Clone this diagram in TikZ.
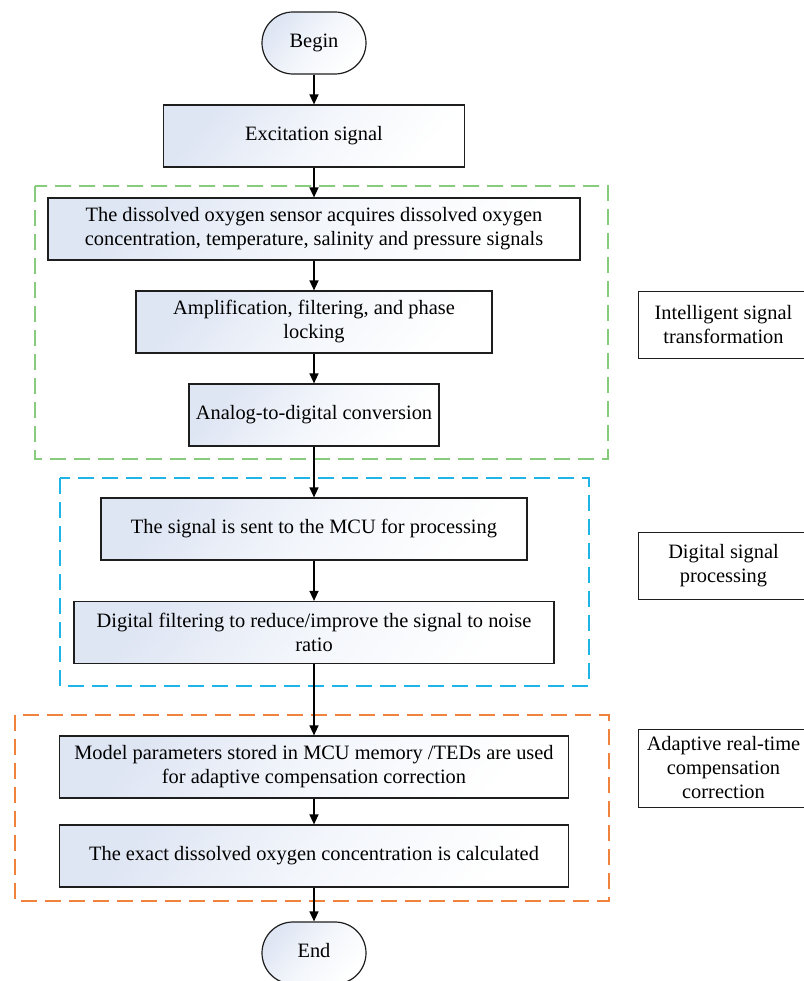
\documentclass[tikz,border=0pt]{standalone}
\usepackage{fontspec}
\setmainfont{Liberation Serif}
\usetikzlibrary{arrows.meta}
\definecolor{boxshade}{RGB}{222,229,243}
\definecolor{boxmid}{RGB}{243,246,251}
\definecolor{framegreen}{RGB}{134,204,124}
\definecolor{frameblue}{RGB}{30,180,232}
\definecolor{frameorange}{RGB}{240,130,60}
\definecolor{edgegray}{RGB}{30,30,30}
\tikzset{
  stepbox/.style={draw=edgegray, line width=1.2pt, inner sep=0pt, align=center,
    top color=boxshade, bottom color=white, middle color=boxmid, shading angle=50,
    font=\fontsize{20.4}{24}\selectfont},
  termbox/.style={stepbox, rounded corners=31pt, minimum width=104pt, minimum height=62pt},
  labelbox/.style={draw=edgegray, line width=1.0pt, fill=white, inner sep=0pt, align=center,
    minimum width=171pt, font=\fontsize{20.4}{24}\selectfont},
  arr/.style={line width=1.3pt, -{Triangle[length=10pt,width=9pt]}},
  frame/.style={line width=1.3pt, dash pattern=on 16pt off 8pt}
}
\begin{document}
\begin{tikzpicture}[x=1pt,y=-1pt]
\useasboundingbox (0,0) rectangle (803,981);
% frames
\draw[frame, framegreen] (35,186) rectangle (608,459);
\draw[frame, frameblue] (60,478) rectangle (589,686);
\draw[frame, frameorange] (15,715) rectangle (609,901);
% flow nodes
\node[termbox] (begin) at (314,43) {\strut Begin};
\node[stepbox, minimum width=301pt, minimum height=62pt] (exc) at (314,136) {\strut Excitation signal};
\node[stepbox, minimum width=532pt, minimum height=62pt] (sensor) at (314,229) {The dissolved oxygen sensor acquires dissolved oxygen\\concentration, temperature, salinity and pressure signals};
\node[stepbox, minimum width=356pt, minimum height=62pt] (amp) at (314,322) {Amplification, filtering, and phase\\locking};
\node[stepbox, minimum width=250pt, minimum height=62pt] (adc) at (314,415) {\strut Analog-to-digital conversion};
\node[stepbox, minimum width=426pt, minimum height=62pt] (mcu) at (314,529) {\strut The signal is sent to the MCU for processing};
\node[stepbox, minimum width=480pt, minimum height=62pt] (dfilt) at (314,632.5) {Digital filtering to reduce/improve the signal to noise\\ratio};
\node[stepbox, minimum width=509pt, minimum height=62pt] (model) at (314,767) {Model parameters stored in MCU memory /TEDs are used\\for adaptive compensation correction};
\node[stepbox, minimum width=509pt, minimum height=62pt] (exact) at (314,856) {\strut The exact dissolved oxygen concentration is calculated};
\node[termbox] (end) at (314,953) {\strut End};
% side labels
\node[labelbox, minimum height=67pt] (lab1) at (723.5,324.5) {Intelligent signal\\transformation};
\node[labelbox, minimum height=67pt] (lab2) at (723.5,565.5) {Digital signal\\processing};
\node[labelbox, minimum height=78pt] (lab3) at (723.5,768) {Adaptive real-time\\compensation\\correction};
% connectors
\draw[arr] (begin) -- (exc);
\draw[arr] (exc) -- (sensor);
\draw[arr] (sensor) -- (amp);
\draw[arr] (amp) -- (adc);
\draw[arr] (adc) -- (mcu);
\draw[arr] (mcu) -- (dfilt);
\draw[arr] (dfilt) -- (model);
\draw[arr] (model) -- (exact);
\draw[arr] (exact) -- (end);
\end{tikzpicture}
\end{document}
